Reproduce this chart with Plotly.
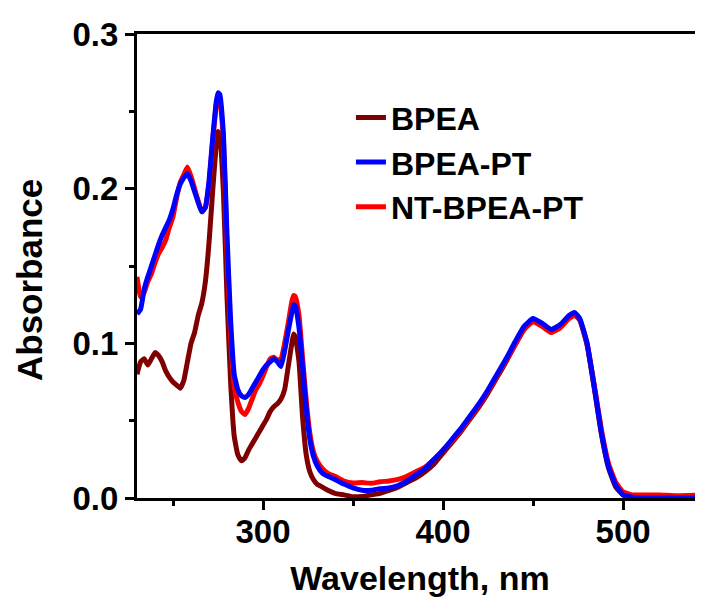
import plotly.graph_objects as go

wavelength = [230, 232, 234, 236, 238, 240, 242, 244, 246, 248, 250, 252, 254, 256, 258, 260,
              262, 264, 266, 268, 270, 272, 274, 275, 276, 278, 280, 282, 284, 286, 288, 290,
              292, 294, 296, 298, 300, 302, 304, 306, 308, 310, 312, 314, 316, 317, 318, 320,
              322, 324, 326, 328, 330, 333, 336, 340, 345, 350, 355, 360, 365, 370, 375, 380,
              385, 390, 395, 400, 405, 410, 415, 420, 425, 430, 435, 440, 445, 450, 455, 460,
              465, 470, 473, 476, 480, 484, 488, 492, 496, 500, 505, 510, 520, 530, 545]

bpea_pt = [0.119, 0.122, 0.135, 0.143, 0.150, 0.157, 0.164, 0.170, 0.175, 0.180, 0.187, 0.196,
           0.203, 0.207, 0.210, 0.205, 0.198, 0.191, 0.185, 0.188, 0.205, 0.232, 0.256, 0.262,
           0.261, 0.235, 0.170, 0.115, 0.080, 0.070, 0.066, 0.065, 0.067, 0.071, 0.075, 0.079,
           0.083, 0.086, 0.088, 0.090, 0.088, 0.085, 0.095, 0.108, 0.120, 0.125, 0.124, 0.110,
           0.085, 0.058, 0.038, 0.027, 0.021, 0.016, 0.014, 0.012, 0.009, 0.0065, 0.005, 0.005,
           0.006, 0.0065, 0.008, 0.011, 0.015, 0.019, 0.025, 0.031, 0.038, 0.045, 0.053, 0.061,
           0.070, 0.080, 0.090, 0.101, 0.111, 0.116, 0.113, 0.109, 0.112, 0.118, 0.120, 0.116,
           0.100, 0.072, 0.042, 0.020, 0.008, 0.002, 0.0005, 0.0, 0.0, 0.0, 0.0]

nt_bpea_pt = [0.143, 0.130, 0.133, 0.140, 0.145, 0.152, 0.158, 0.162, 0.167, 0.175, 0.182, 0.194,
              0.204, 0.209, 0.214, 0.208, 0.200, 0.192, 0.185, 0.188, 0.203, 0.230, 0.254, 0.260,
              0.258, 0.232, 0.160, 0.105, 0.072, 0.062, 0.056, 0.054, 0.058, 0.064, 0.070, 0.074,
              0.079, 0.085, 0.090, 0.091, 0.089, 0.090, 0.100, 0.113, 0.127, 0.131, 0.130, 0.118,
              0.090, 0.063, 0.042, 0.030, 0.024, 0.019, 0.016, 0.014, 0.011, 0.0097, 0.010, 0.0095,
              0.0105, 0.011, 0.012, 0.014, 0.017, 0.020, 0.025, 0.031, 0.037, 0.044, 0.052, 0.060,
              0.069, 0.079, 0.089, 0.099, 0.109, 0.114, 0.111, 0.107, 0.110, 0.116, 0.118, 0.115,
              0.100, 0.073, 0.044, 0.022, 0.010, 0.004, 0.002, 0.002, 0.002, 0.0015, 0.002]

bpea = [0.080, 0.088, 0.090, 0.086, 0.090, 0.094, 0.092, 0.088, 0.082, 0.078, 0.075, 0.073,
        0.071, 0.076, 0.088, 0.100, 0.107, 0.118, 0.126, 0.140, 0.165, 0.198, 0.228, 0.237,
        0.235, 0.198, 0.130, 0.075, 0.040, 0.028, 0.024, 0.026, 0.031, 0.035, 0.039, 0.043,
        0.047, 0.051, 0.056, 0.059, 0.061, 0.064, 0.070, 0.085, 0.100, 0.106, 0.104, 0.088,
        0.052, 0.028, 0.017, 0.012, 0.009, 0.007, 0.005, 0.003, 0.002, 0.0008, 0.001, 0.002,
        0.003, 0.005, 0.007, 0.010, 0.013, 0.017, 0.022, 0.029, 0.036, 0.043, 0.051, 0.059,
        0.068, 0.078, 0.088, 0.099, 0.109, 0.115, 0.112, 0.108, 0.111, 0.117, 0.119, 0.115,
        0.099, 0.071, 0.041, 0.019, 0.007, 0.002, 0.0005, 0.0, 0.0, 0.0, 0.0]

names = ["BPEA", "BPEA-PT", "NT-BPEA-PT"]
colors = ["#7f0000", "#0000ff", "#ff0000"]
x_title = "Wavelength, nm"
y_title = "Absorbance"

FONT = "Liberation Sans, Arial, sans-serif"
LW = 5

fig = go.Figure()
fig.add_trace(go.Scatter(x=wavelength, y=bpea, mode="lines", name=names[0],
                         line=dict(color=colors[0], width=LW, shape="spline", smoothing=0.4),
                         legendrank=1))
fig.add_trace(go.Scatter(x=wavelength, y=nt_bpea_pt, mode="lines", name=names[2],
                         line=dict(color=colors[2], width=LW, shape="spline", smoothing=0.4),
                         legendrank=3))
fig.add_trace(go.Scatter(x=wavelength, y=bpea_pt, mode="lines", name=names[1],
                         line=dict(color=colors[1], width=LW, shape="spline", smoothing=0.4),
                         legendrank=2))

fig.update_layout(
    width=695, height=589,
    margin=dict(l=129, r=0, t=26, b=99, autoexpand=False),
    paper_bgcolor="white", plot_bgcolor="white",
    font=dict(family=FONT, size=33, color="black", weight="bold"),
    showlegend=True,
    legend=dict(x=0.378, y=0.879, xanchor="left", yanchor="top",
                bgcolor="rgba(0,0,0,0)", font=dict(size=32, weight="bold"),
                traceorder="normal"),
    xaxis=dict(range=[230, 544.4], showgrid=False, zeroline=False, automargin=False,
               showline=True, linecolor="black", linewidth=3, mirror=True,
               ticks="outside", ticklen=9, tickwidth=3, tickcolor="black",
               tick0=0, dtick=100, ticklabelstandoff=-7,
               minor=dict(ticks="outside", ticklen=5, tickwidth=3, tickcolor="black", dtick=50),
               title=dict(text=x_title, standoff=20, font=dict(size=34, weight="bold")),
               tickfont=dict(size=33, weight="bold")),
    yaxis=dict(range=[0, 0.3], showgrid=False, zeroline=False, automargin=False,
               showline=True, linecolor="black", linewidth=3, mirror=False,
               ticks="outside", ticklen=9, tickwidth=3, tickcolor="black",
               tick0=0, dtick=0.1, tickformat=".1f",
               minor=dict(ticks="outside", ticklen=5, tickwidth=3, tickcolor="black", dtick=0.05),
               tickfont=dict(size=33, weight="bold")),
    annotations=[dict(text=y_title, textangle=-90, xref="paper", yref="paper",
                      x=(29 - 137) / 566, y=(498 - 280) / 464, xanchor="center", yanchor="middle",
                      showarrow=False, font=dict(size=35, weight="bold", family=FONT))],
)

fig.write_html("out.html")
